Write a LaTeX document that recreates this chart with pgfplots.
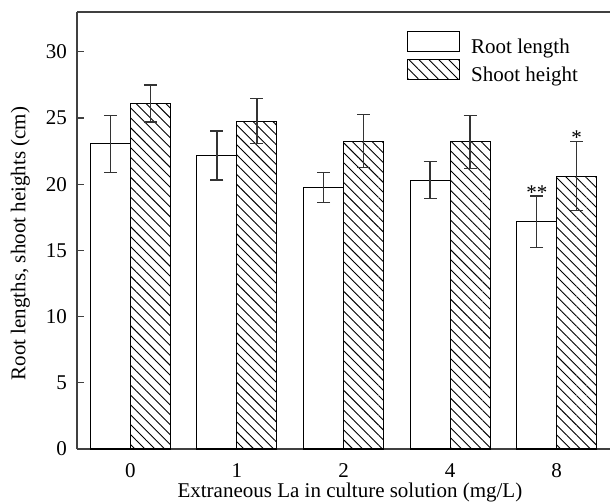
\documentclass[border=0pt]{standalone}
\usepackage{fontspec}
\setmainfont{Liberation Serif}
\usepackage{pgfplots}
\pgfplotsset{compat=1.18}
\usetikzlibrary{patterns.meta}

% group positions 0..4 stand for 0,1,2,4,8 mg/L
\pgfplotstableread{
x  y     err
0  23.05 2.15
1  22.15 1.85
2  19.75 1.15
3  20.30 1.40
4  17.15 1.95
}\rootdata
\pgfplotstableread{
x  y     err
0  26.10 1.40
1  24.75 1.70
2  23.25 2.00
3  23.20 2.00
4  20.60 2.60
}\shootdata

\begin{document}
\fontsize{21bp}{25bp}\selectfont
\begin{tikzpicture}
\path[use as bounding box] (-77bp,-53bp) rectangle (533bp,449bp);
\begin{axis}[
  scale only axis,
  width=533bp, height=437bp,
  ybar=0pt, bar width=40bp,
  xmin=-0.5, xmax=4.5,
  ymin=0, ymax=33,
  xtick={0,1,2,3,4},
  xticklabels={0,1,2,4,8},
  ytick={0,5,10,15,20,25,30},
  axis x line*=box,
  axis y line*=left,
  axis line style={draw=black!75, line width=1.3bp},
  ytick pos=left,
  major tick length=7bp,
  ytick style={draw=black!75, line width=1.2bp},
  xtick style={draw=none},
  /pgf/number format/assume math mode=true,
  tick label style={font=\fontsize{21bp}{25bp}\selectfont},
  label style={font=\fontsize{21bp}{25bp}\selectfont},
  yticklabel style={xshift=-3bp},
  xticklabel style={anchor=base, inner sep=0pt, yshift=-21.5bp},
  xlabel={Extraneous La in culture solution (mg/L)},
  ylabel={Root lengths, shoot heights (cm)},
  xlabel style={at={(axis description cs:0.512,0)}, anchor=base, inner sep=0pt, yshift=-48.5bp},
  ylabel style={at={(axis description cs:0,0.47)}, anchor=south, yshift=40bp},
  legend style={at={(axis description cs:0.619,0.957)}, anchor=north west,
    draw=none, fill=none, inner sep=0pt, row sep=1bp,
    font=\fontsize{21bp}{25bp}\selectfont},
  legend cell align=left,
  legend image code/.code={\draw[#1, line width=1.1bp] (0bp,-4bp) rectangle (52bp,16bp);
    \path (61bp,0bp);},
  error bars/error bar style={draw=black!80, line width=1.4bp},
  error bars/error mark options={rotate=90, mark size=6.5bp, line width=1.4bp, draw=black!80},
]
\addplot[draw=black, line width=1.1bp, fill=white,
  error bars/.cd, y dir=both, y explicit]
  table[x=x, y=y, y error=err] {\rootdata};
\addplot[draw=black, line width=1.1bp,
  pattern={Lines[angle=-45, distance=7bp, line width=0.9bp]},
  error bars/.cd, y dir=both, y explicit]
  table[x=x, y=y, y error=err] {\shootdata};
\legend{Root length, Shoot height}
\node[anchor=base, inner sep=0pt, yshift=-3bp] at (axis cs:3.813,19.10) {**};
\node[anchor=base, inner sep=0pt, yshift=-3bp] at (axis cs:4.187,23.20) {*};
\end{axis}
\end{tikzpicture}
\end{document}
